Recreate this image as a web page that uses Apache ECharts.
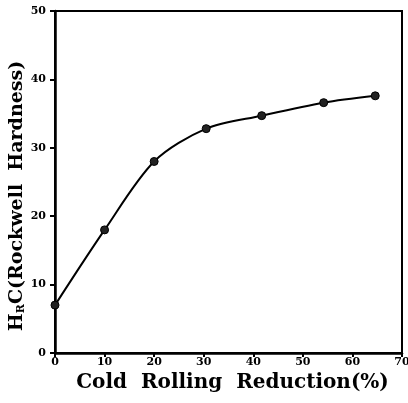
<!DOCTYPE html>
<html>
<head>
<meta charset="utf-8">
<script src="https://cdn.jsdelivr.net/npm/echarts@6/dist/echarts.min.js"></script>
<style>
  html, body { margin: 0; padding: 0; background: #fff; }
  #chart { width: 408px; height: 403px; }
</style>
</head>
<body>
<div id="chart"></div>
<script>
// cold rolling reduction (%) vs hardness HRC
var reduction = [0, 10, 20, 30.5, 41.7, 54.2, 64.6];
var hardness = [7, 18, 28, 32.8, 34.7, 36.6, 37.6];
var xTicks = [0, 10, 20, 30, 40, 50, 60, 70];
var yTicks = [0, 10, 20, 30, 40, 50];

var font = "DejaVu Serif";
var points = reduction.map(function (r, i) { return [r, hardness[i]]; });

var chart = echarts.init(document.getElementById("chart"));
chart.setOption({
  animation: false,
  grid: {
    left: 55, right: 6, top: 11, bottom: 50,
    outerBoundsMode: "none",
    show: true, borderColor: "#000", borderWidth: 2
  },
  xAxis: {
    type: "value",
    min: xTicks[0], max: xTicks[xTicks.length - 1], interval: 10,
    name: "Cold  Rolling  Reduction(%)",
    nameLocation: "middle",
    nameGap: 20,
    nameMoveOverlap: false,
    nameTextStyle: { fontFamily: font, fontWeight: "bold", fontSize: 20, color: "#000", padding: [0, 0, 0, 8] },
    axisLine: { lineStyle: { color: "#000", width: 2.5 } },
    axisTick: { show: true, length: 4, lineStyle: { color: "#000", width: 2 } },
    axisLabel: { margin: 4, fontFamily: font, fontWeight: "bold", fontSize: 11, color: "#000" },
    splitLine: { show: false }
  },
  yAxis: {
    type: "value",
    min: yTicks[0], max: yTicks[yTicks.length - 1], interval: 10,
    name: "{m|H}{s|R}{m|C(Rockwell  Hardness)}",
    nameLocation: "middle",
    nameGap: 28,
    nameRotate: 90,
    nameMoveOverlap: false,
    nameTextStyle: {
      color: "#000",
      padding: [0, 28, 0, 0],
      rich: {
        m: { fontFamily: font, fontWeight: "bold", fontSize: 19, color: "#000" },
        s: { fontFamily: font, fontWeight: "bold", fontSize: 11, color: "#000", verticalAlign: "bottom", padding: [8, 0, 0, 0] }
      }
    },
    axisLine: { show: true, lineStyle: { color: "#000", width: 2.5 } },
    axisTick: { show: true, length: 5, lineStyle: { color: "#000", width: 2 } },
    axisLabel: { margin: 9, fontFamily: font, fontWeight: "bold", fontSize: 11, color: "#000" },
    splitLine: { show: false }
  },
  series: [{
    type: "line",
    data: points,
    smooth: 0.3,
    symbol: "circle",
    symbolSize: 8,
    lineStyle: { color: "#000", width: 2 },
    itemStyle: { color: "#222", borderColor: "#000", borderWidth: 1 }
  }]
});
</script>
</body>
</html>
